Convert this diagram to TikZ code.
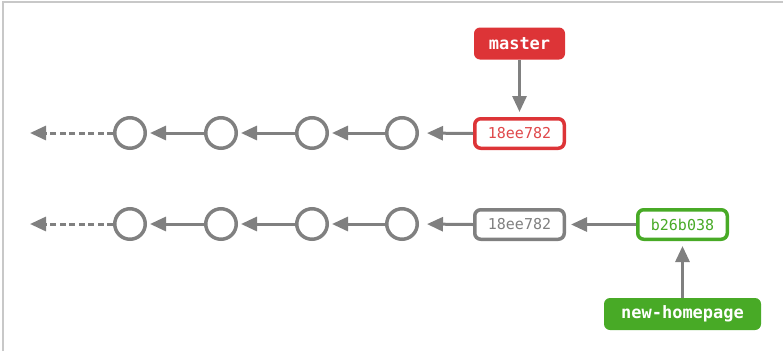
\documentclass[tikz,border=0pt]{standalone}
\usepackage{fontspec}
\setmonofont{DejaVu Sans Mono}
\usetikzlibrary{arrows.meta}
\definecolor{gitred}{RGB}{221,52,55}
\definecolor{gitgreen}{RGB}{72,170,38}
\definecolor{gitgray}{RGB}{128,128,128}
\definecolor{framegray}{RGB}{200,200,200}
\tikzset{
  commit/.style={circle, draw=gitgray, line width=3.5pt, inner sep=0pt, minimum size=30.5pt, fill=white},
  hashbox/.style={rectangle, rounded corners=6pt, line width=3.5pt, fill=white,
    minimum width=89.5pt, minimum height=29.5pt, inner sep=0pt, font=\ttfamily\fontsize{15}{15}\selectfont},
  branch/.style={rectangle, rounded corners=6pt, inner sep=0pt, minimum height=32pt,
    text=white, font=\ttfamily\bfseries\fontsize{17}{17}\selectfont},
  link/.style={draw=gitgray, line width=3pt, -{Triangle[length=16pt,width=14pt]}},
}
\begin{document}
\begin{tikzpicture}[x=1pt,y=-1pt]
  \useasboundingbox (0,0) rectangle (783,351);
  % frame
  \draw[framegray, line width=2pt] (3,351) -- (3,2) -- (783,2);

  % upper history
  \node[commit] (c11) at (130,133) {};
  \node[commit] (c12) at (221,133) {};
  \node[commit] (c13) at (312,133) {};
  \node[commit] (c14) at (402,133) {};
  \node[hashbox, draw=gitred, text=gitred!90!white] (h1) at (519.5,133.5) {18ee782};
  \node[branch, fill=gitred, minimum width=91pt] (master) at (519.5,43.5) {master};
  \coordinate (e1) at (30,133);

  % lower history
  \node[commit] (c21) at (130,224) {};
  \node[commit] (c22) at (221,224) {};
  \node[commit] (c23) at (312,224) {};
  \node[commit] (c24) at (402,224) {};
  \node[hashbox, draw=gitgray, text=gitgray] (h2) at (519.5,224.5) {18ee782};
  \node[hashbox, draw=gitgreen, text=gitgreen] (h3) at (682.5,224.5) {b26b038};
  \node[branch, fill=gitgreen, minimum width=157pt] (nh) at (682.5,314) {new-homepage};
  \coordinate (e2) at (30,224);

  % connectors
  \foreach \r/\e in {1/e1,2/e2}{
    \draw[link, dash pattern=on 6pt off 3.5pt] (c\r1.west) -- (\e);
    \draw[link, shorten >=3pt] (c\r2.west) -- (c\r1.east);
    \draw[link, shorten >=3pt] (c\r3.west) -- (c\r2.east);
    \draw[link, shorten >=3pt] (c\r4.west) -- (c\r3.east);
  }
  \draw[link, shorten >=8pt] (h1.west) -- (c14.east);
  \draw[link, shorten >=8pt] (h2.west) -- (c24.east);
  \draw[link, shorten >=5pt] (h3.west) -- (h2.east);
  \draw[link, shorten >=5pt] (master.south) -- (h1.north);
  \draw[link, shorten >=5pt] (nh.north) -- (h3.south);
\end{tikzpicture}
\end{document}
